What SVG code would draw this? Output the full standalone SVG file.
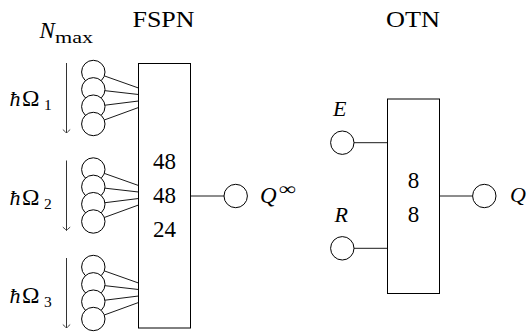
<svg xmlns="http://www.w3.org/2000/svg" width="530" height="335" viewBox="0 0 530 335" font-family="'Liberation Serif','Times New Roman','DejaVu Serif',serif">
<style>
text{font-family:"Liberation Serif","Times New Roman","DejaVu Serif",serif;fill:#000}
.h{font-size:24px}
.m{font-size:22px}
.d{font-size:23px}
.i{font-style:italic}
.s{font-size:15.5px}
.bx{fill:#fff;stroke:#000;stroke-width:1}
.c{fill:#fff;stroke:#000;stroke-width:1}
.ln{stroke:#000;stroke-width:0.9;fill:none}
.ar{stroke:#333;stroke-width:1;fill:none}
</style>
<defs>
<marker id="tip" markerUnits="userSpaceOnUse" markerWidth="10" markerHeight="10" refX="0" refY="0" viewBox="-5 -5 10 10" orient="auto" overflow="visible">
<path d="M-3.2,-3.4 Q-0.8,-0.6 0,0 Q-0.8,0.6 -3.2,3.4" stroke="#333" stroke-width="0.9" fill="none" stroke-linecap="round"/>
</marker>
<g id="fan">
<circle class="c" cx="93.3" cy="72" r="11.7"/>
<circle class="c" cx="93.3" cy="89.33" r="11.7"/>
<circle class="c" cx="93.3" cy="106.67" r="11.7"/>
<circle class="c" cx="93.3" cy="124" r="11.7"/>
</g>
<g id="fanlines">
<line class="ln" x1="104.33" y1="75.9" x2="138.5" y2="88"/>
<line class="ln" x1="104.93" y1="90.66" x2="138.5" y2="94.5"/>
<line class="ln" x1="104.91" y1="105.21" x2="138.5" y2="101"/>
<line class="ln" x1="104.29" y1="119.99" x2="138.5" y2="107.5"/>
</g>
</defs>

<g id="connectors">
<use href="#fanlines"/>
<use href="#fanlines" transform="translate(0,97.5)"/>
<use href="#fanlines" transform="translate(0,195)"/>
<line class="ar" x1="66.5" y1="63" x2="66.5" y2="133" marker-end="url(#tip)"/>
<line class="ar" x1="66.5" y1="160.5" x2="66.5" y2="230.5" marker-end="url(#tip)"/>
<line class="ar" x1="66.5" y1="258" x2="66.5" y2="328" marker-end="url(#tip)"/>
<line class="ln" x1="190.5" y1="196" x2="224" y2="196"/>
<line class="ln" x1="354" y1="142.7" x2="387.5" y2="142.7"/>
<line class="ln" x1="354" y1="248.3" x2="387.5" y2="248.3"/>
<line class="ln" x1="439.5" y1="196" x2="472.6" y2="196"/>
</g>

<g id="fspn">
<rect class="bx" x="138.5" y="63.5" width="52" height="264.5"/>
<text class="h" x="163.5" y="26.5" text-anchor="middle" textLength="62" lengthAdjust="spacingAndGlyphs">FSPN</text>
<text class="d" x="164.5" y="168.5" text-anchor="middle">48</text>
<text class="d" x="164.5" y="203.3" text-anchor="middle">48</text>
<text class="d" x="164.5" y="237" text-anchor="middle">24</text>
</g>

<g id="nmax">
<text class="m" y="37.5"><tspan class="i" x="39.5" font-size="23px">N</tspan><tspan x="55" y="43" font-size="17.5px" textLength="38" lengthAdjust="spacingAndGlyphs">max</tspan></text>
</g>

<g id="omega1">
<use href="#fan"/>
<text class="m" y="105.5"><tspan class="i" x="9.5">ħ</tspan><tspan x="22" font-size="23.5px">Ω</tspan><tspan class="s" x="44" y="110">1</tspan></text>
</g>
<g id="omega2">
<use href="#fan" transform="translate(0,97.5)"/>
<text class="m" y="204.5"><tspan class="i" x="9.5">ħ</tspan><tspan x="22" font-size="23.5px">Ω</tspan><tspan class="s" x="44" y="209">2</tspan></text>
</g>
<g id="omega3">
<use href="#fan" transform="translate(0,195)"/>
<text class="m" y="302.5"><tspan class="i" x="9.5">ħ</tspan><tspan x="22" font-size="23.5px">Ω</tspan><tspan class="s" x="44" y="307">3</tspan></text>
</g>

<g id="qinf">
<circle class="c" cx="235.7" cy="196" r="11.7"/>
<text class="m" y="202.5"><tspan class="i" x="260" font-size="23px">Q</tspan><tspan x="278.5" y="195" font-size="18px" textLength="17" lengthAdjust="spacingAndGlyphs">∞</tspan></text>
</g>

<g id="otn">
<rect class="bx" x="387.5" y="99" width="52" height="194.5"/>
<text class="h" x="413" y="26.5" text-anchor="middle" textLength="54" lengthAdjust="spacingAndGlyphs">OTN</text>
<text class="d" x="413.5" y="188.3" text-anchor="middle">8</text>
<text class="d" x="413.5" y="221.7" text-anchor="middle">8</text>
</g>

<g id="e">
<circle class="c" cx="342.3" cy="142.7" r="11.7"/>
<text class="m i" x="333" y="116">E</text>
</g>
<g id="r">
<circle class="c" cx="342.3" cy="248.3" r="11.7"/>
<text class="m i" x="334.5" y="221.7">R</text>
</g>
<g id="q">
<circle class="c" cx="484.3" cy="196" r="11.7"/>
<text class="m i" x="510" y="202" font-size="23px">Q</text>
</g>
</svg>
